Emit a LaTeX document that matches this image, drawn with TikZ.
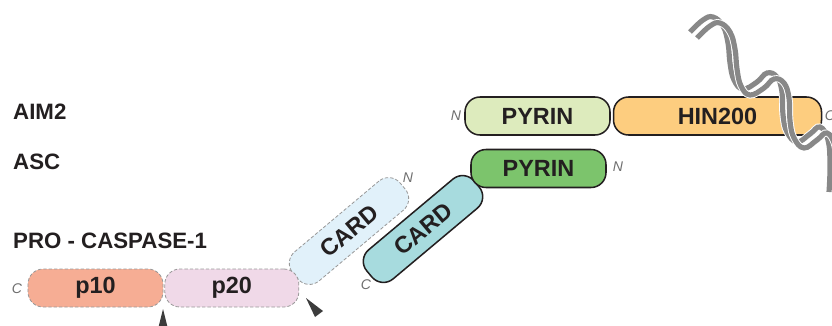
\documentclass[tikz,border=0pt]{standalone}
\usepackage{fontspec}
\setmainfont{Liberation Sans}
\usetikzlibrary{positioning}
\definecolor{inktext}{RGB}{35,31,32}
\definecolor{pyrinpale}{RGB}{221,235,189}
\definecolor{hinorange}{RGB}{253,205,127}
\definecolor{pyringreen}{RGB}{124,196,108}
\definecolor{cardteal}{RGB}{167,219,222}
\definecolor{cardpale}{RGB}{225,241,250}
\definecolor{ptensalmon}{RGB}{246,173,148}
\definecolor{ptwentypink}{RGB}{240,217,232}
\definecolor{dnagrey}{RGB}{136,136,136}
\definecolor{termgrey}{RGB}{110,110,110}
\definecolor{cutgrey}{RGB}{60,60,60}

\tikzset{
  dombox/.style={rectangle,rounded corners=4.5mm,draw=inktext,line width=1.3pt,
    text=inktext,font=\fontsize{20}{22}\selectfont\bfseries,
    minimum height=11.4mm,inner sep=0pt},
  latent/.style={dombox,draw=black!40,line width=0.7pt,dash pattern=on 1mm off 0.6mm},
  protein/.style={anchor=west,inner sep=0pt,text=inktext,
    font=\fontsize{19}{22}\selectfont\bfseries},
  terminus/.style={inner sep=0pt,text=termgrey,font=\fontsize{12}{14}\selectfont\itshape},
  strand/.style={draw=dnagrey,line width=1.55mm,preaction={draw=white,line width=2.1mm}},
  cutmark/.style={fill=cutgrey}
}

\begin{document}
\begin{tikzpicture}[x=0.3mm,y=-0.3mm]
\useasboundingbox (0,0) rectangle (832,325);

% protein names
\node[protein] (aimname) at (13,111.5) {AIM2};
\node[protein] (ascname) at (13,162) {ASC};
\node[protein] (casname) at (13,240.5) {PRO - CASPASE-1};

% CARD domains, tilted
\node[latent,fill=cardpale,minimum width=42mm,rotate=40] (procard) at (349,231) {CARD};
\node[dombox,fill=cardteal,minimum width=42mm,rotate=40] (asccard) at (423,229) {CARD};

% AIM2
\node[dombox,fill=pyrinpale,minimum width=43.5mm] (aimpyrin) at (537.5,116) {PYRIN};
\node[dombox,fill=hinorange,minimum width=62.4mm,right=0.6mm of aimpyrin] (hin) {HIN200};
% ASC
\node[dombox,fill=pyringreen,minimum width=40.5mm] (ascpyrin) at (538.5,168.5) {PYRIN};
% caspase subunits
\node[latent,fill=ptensalmon,minimum width=40.5mm] (pten) at (95.5,288) {p10};
\node[latent,fill=ptwentypink,minimum width=40.2mm,right=0.3mm of pten] (ptwenty) {p20};

% termini
\node[terminus] (aimN) at (456,116) {N};
\node[terminus] (aimC) at (830,116) {C};
\node[terminus] (ascN) at (618,167) {N};
\node[terminus] (ascC) at (366,285) {C};
\node[terminus] (casN) at (408,178) {N};
\node[terminus] (casC) at (17,289) {C};

% cleavage sites
\coordinate (cutA) at (163,309);
\coordinate (cutB) at (306,298);
\fill[cutmark] (cutA) -- ++(-5,20) -- ++(10,0) -- cycle;
\fill[cutmark] (cutB) -- ++(9,19) -- ++(8,-6) -- cycle;

% DNA
\foreach \dx/\dy in {0/0,7/6}
  \draw[strand,shift={(\dx,\dy)}] plot[smooth,tension=0.7] coordinates {
    (690,32) (703,20) (713,17) (723,26) (728,43) (730,63) (734,80) (743,89)
    (757,82) (767,73) (777,77) (782,92) (783,115) (787,132) (797,142)
    (810,134) (820,127) (828,140) (830,165) (829,192)};
\end{tikzpicture}
\end{document}
